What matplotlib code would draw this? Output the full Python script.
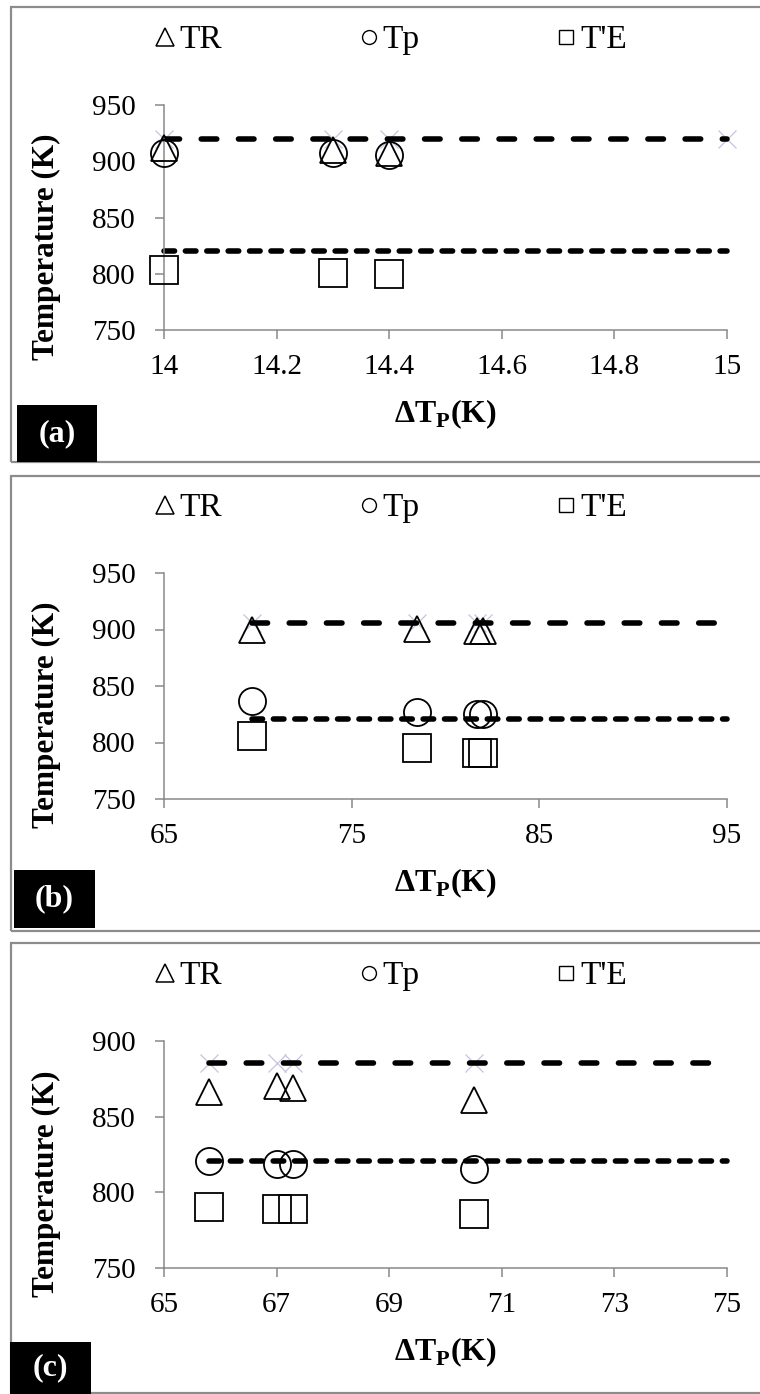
import matplotlib
matplotlib.use("Agg")
import matplotlib.pyplot as plt
from matplotlib.lines import Line2D
from matplotlib.patches import Rectangle

plt.rcParams['font.family'] = ['Liberation Serif', 'DejaVu Serif']
plt.rcParams['mathtext.fontset'] = 'custom'
plt.rcParams['mathtext.rm'] = 'Liberation Serif'
plt.rcParams['mathtext.bf'] = 'Liberation Serif:bold'

# ---------------- data ----------------
# panel (a)
a_x = [14.0, 14.3, 14.4]
a_TR = [912, 910, 907]
a_Tp = [907, 907, 906]
a_TE = [803, 801, 800]
a_upper = 920
a_lower = 820
a_xmark_extra = [15.0]

# panel (b)
b_x = [69.7, 78.5, 81.7, 82.0]
b_TR = [900, 900.5, 898.5, 898.5]
b_Tp = [837, 827, 825, 825]
b_TE = [806, 795, 791, 791]
b_upper = 906
b_lower = 820.5
b_xmark_extra = []

# panel (c)
c_x = [65.8, 67.0, 67.3, 70.5]
c_TR = [866, 870, 869, 861]
c_Tp = [821, 818.5, 818.5, 815.5]
c_TE = [790.6, 789, 789, 786]
c_upper = 885.7
c_lower = 820.9
c_xmark_extra = []

a_xticks = [14, 14.2, 14.4, 14.6, 14.8, 15]
a_xticklabels = ['14', '14.2', '14.4', '14.6', '14.8', '15']
b_xticks = [65, 75, 85, 95]
c_xticks = [65, 67, 69, 71, 73, 75]
ab_yticks = [750, 800, 850, 900, 950]
c_yticks = [750, 800, 850, 900]

legend_labels = ['TR', 'Tp', "T'E"]
panel_tags = ['(a)', '(b)', '(c)']

# ---------------- layout ----------------
W, H = 760, 1394
fig = plt.figure(figsize=(W / 100, H / 100), dpi=100)

def rect(l, t, r, b):
    return [l / W, 1 - b / H, (r - l) / W, (b - t) / H]

GRAY = '#898989'
XCOL = '#c9c2de'

panels = [
    dict(x=a_x, TR=a_TR, Tp=a_Tp, TE=a_TE, up=a_upper, lo=a_lower, extra=a_xmark_extra,
         xlim=(14, 15), ylim=(750, 950), xt=a_xticks, xtl=a_xticklabels, yt=ab_yticks,
         ax=(164, 105, 727, 330), frame=(11, 7, 462), tag=(17, 405, 97, 462), leg_y=40),
    dict(x=b_x, TR=b_TR, Tp=b_Tp, TE=b_TE, up=b_upper, lo=b_lower, extra=b_xmark_extra,
         xlim=(65, 95), ylim=(750, 950), xt=b_xticks, xtl=[str(v) for v in b_xticks], yt=ab_yticks,
         ax=(164, 573, 727, 799), frame=(11, 476, 931), tag=(14, 870, 95, 928), leg_y=508),
    dict(x=c_x, TR=c_TR, Tp=c_Tp, TE=c_TE, up=c_upper, lo=c_lower, extra=c_xmark_extra,
         xlim=(65, 75), ylim=(750, 900), xt=c_xticks, xtl=[str(v) for v in c_xticks], yt=c_yticks,
         ax=(164, 1041, 727, 1268), frame=(11, 943, 1393), tag=(10, 1342, 91, 1394), leg_y=976),
]

MS = 19.5
LW_LINE = 4.0

for i, p in enumerate(panels):
    # panel frame
    fl, ft, fb = p['frame']
    fig.patches.append(Rectangle((fl / W, 1 - fb / H), (W + 20 - fl) / W, (fb - ft) / H,
                                 transform=fig.transFigure, fill=False, edgecolor='#8c8c8c',
                                 linewidth=1.6, zorder=0))

    ax = fig.add_axes(rect(*p['ax']))
    x0 = p['x'][0]
    x1 = p['xlim'][1]
    # reference lines
    ax.plot([x0, x1], [p['up'], p['up']], color='black', lw=LW_LINE,
            dashes=(2.8, 3.9), dash_capstyle='round', zorder=2, clip_on=False)
    ax.plot([x0, x1], [p['lo'], p['lo']], color='black', lw=LW_LINE,
            dashes=(1.9, 1.95), dash_capstyle='round', zorder=2, clip_on=False)
    xm = list(p['x']) + list(p['extra'])
    ax.plot(xm, [p['up']] * len(xm), ls='none', marker='x', ms=13, mew=0.9,
            color=XCOL, zorder=1, clip_on=False)

    # data markers
    ax.plot(p['x'], p['TR'], ls='none', marker='^', ms=MS * 0.97, mfc='none', mec='black',
            mew=1.3, zorder=3, clip_on=False)
    ax.plot(p['x'], p['Tp'], ls='none', marker='o', ms=MS, mfc='none', mec='black',
            mew=1.3, zorder=3, clip_on=False)
    ax.plot(p['x'], p['TE'], ls='none', marker='s', ms=MS, mfc='none', mec='black',
            mew=1.3, zorder=3, clip_on=False)

    ax.set_xlim(*p['xlim'])
    ax.set_ylim(*p['ylim'])
    ax.set_xticks(p['xt'])
    ax.set_xticklabels(p['xtl'])
    ax.set_yticks(p['yt'])
    for s in ['top', 'right']:
        ax.spines[s].set_visible(False)
    for s in ['left', 'bottom']:
        ax.spines[s].set_color(GRAY)
        ax.spines[s].set_linewidth(1.1)
    ax.tick_params(axis='both', direction='out', length=6.5, width=1.1, color=GRAY,
                   labelsize=21, labelcolor='black')
    ax.tick_params(axis='x', pad=11)
    ax.tick_params(axis='y', pad=14)
    ax.patch.set_alpha(0)

    lt, lb = p['ax'][1], p['ax'][3]
    ah = lb - lt
    ax.set_xlabel(r'$\mathbf{\Delta T}_{\mathbf{P}}$(K)', fontsize=23, fontweight='bold')
    ax.xaxis.set_label_coords(0.5, -(397 - 330) / 225)
    ax.set_ylabel('Temperature (K)', fontsize=22.5, fontweight='bold')
    ax.yaxis.set_label_coords(-(164 - 61) / (727 - 164), 0.5 - 29 / ah)

    # legend
    handles = [
        Line2D([], [], ls='none', marker='^', ms=13.5, mfc='none', mec='black', mew=1.1),
        Line2D([], [], ls='none', marker='o', ms=10, mfc='none', mec='black', mew=1.0),
        Line2D([], [], ls='none', marker='s', ms=10.5, mfc='none', mec='black', mew=1.0),
    ]
    ax.legend(handles, legend_labels, loc='center left',
              bbox_to_anchor=(155 / W, 1 - p['leg_y'] / H), bbox_transform=fig.transFigure,
              ncol=3, frameon=False, fontsize=24, borderpad=0, borderaxespad=0,
              handlelength=0.62, handletextpad=0.1, columnspacing=4.1)

    # tag box
    tl, tt, tr, tb = p['tag']
    fig.patches.append(Rectangle((tl / W, 1 - tb / H), (tr - tl) / W, (tb - tt) / H,
                                 transform=fig.transFigure, facecolor='black',
                                 edgecolor='none', zorder=5))
    fig.text((tl + tr) / 2 / W, 1 - (tt + tb) / 2 / H, panel_tags[i], color='white',
             fontsize=23, fontweight='bold', ha='center', va='center', zorder=6)

fig.savefig('out.png', dpi=100)
